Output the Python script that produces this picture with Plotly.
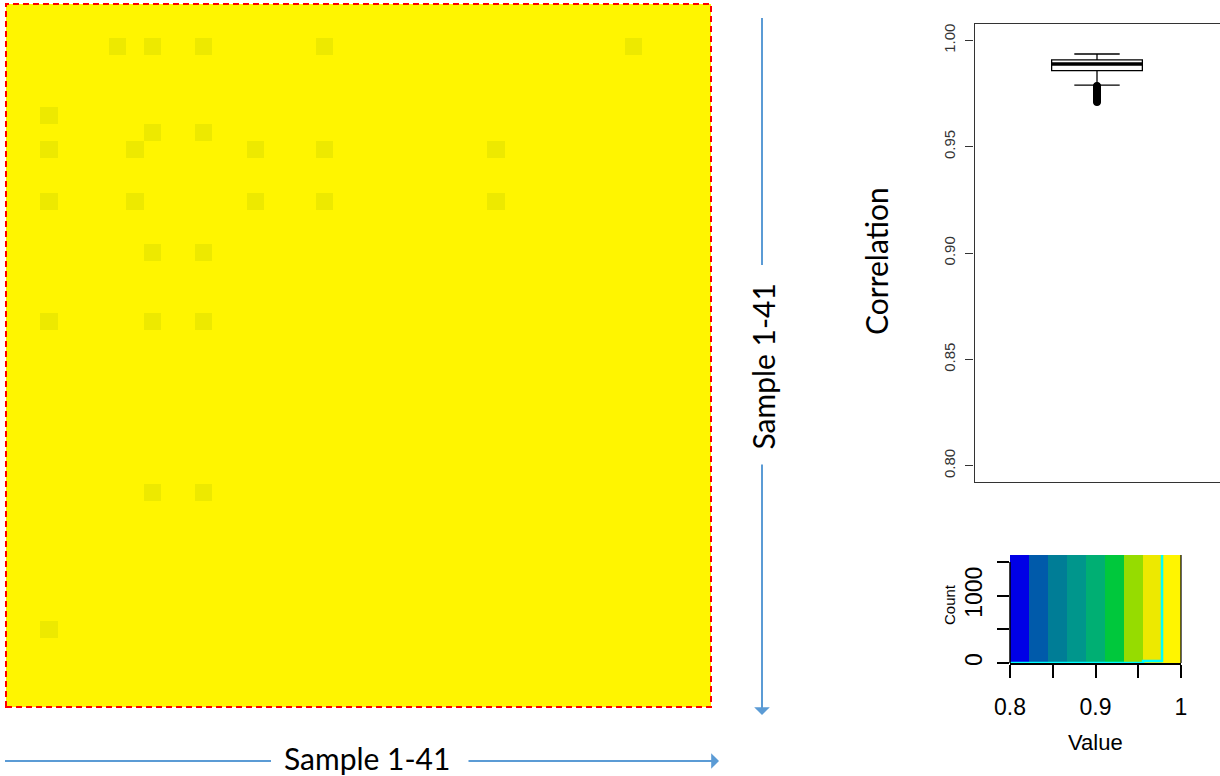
import plotly.graph_objects as go

W, H = 1220, 776

# ---------------- data ----------------
samples = list(range(1, 42))
high_corr = 0.99          # colour of almost every cell (top bin)
low_corr = 0.97           # slightly darker cells (second-highest bin)
low_rows = [2, 2, 2, 2, 2, 6, 7, 7, 8, 8, 8, 8, 8, 11, 11, 11, 11, 11, 14, 14, 18, 18, 18, 28, 28, 36]
low_cols = [6, 8, 11, 18, 36, 2, 8, 11, 2, 7, 14, 18, 28, 2, 7, 14, 18, 28, 8, 11, 2, 8, 11, 8, 11, 2]

breaks = [0.8, 0.8222, 0.8444, 0.8667, 0.8889, 0.9111, 0.9333, 0.9556, 0.9778, 1.0]
key_colors = ["#0000E6", "#005AAA", "#007D96", "#00968C", "#00AF73",
              "#00C83C", "#96DC00", "#EDE900", "#FFF500"]
hist_counts = [0, 0, 0, 0, 0, 0, 0, 30, 1641]
count_ticks = [0, 500, 1000, 1500]
count_labels = ["0", "", "1000", ""]
value_ticks = [0.8, 0.85, 0.9, 0.95, 1.0]
value_labels = ["0.8", "", "0.9", "", "1"]

box_q1, box_median, box_q3 = 0.9858, 0.9889, 0.9908
box_lower, box_upper = 0.9790, 0.9936
box_outliers = [0.9787, 0.9784, 0.9781, 0.9778, 0.9775, 0.9772, 0.9769, 0.9766, 0.9763,
                0.9760, 0.9757, 0.9754, 0.9751, 0.9748, 0.9745, 0.9742, 0.9739, 0.9736,
                0.9733, 0.9730, 0.9727, 0.9724, 0.9721, 0.9718, 0.9715, 0.9712, 0.9709]
corr_ticks = [0.80, 0.85, 0.90, 0.95, 1.00]

# ---------------- helpers ----------------
def px(x):
    return x / W

def py(y):
    return 1 - y / H

z = [[high_corr for _ in samples] for _ in samples]
for r, c in zip(low_rows, low_cols):
    z[r][c] = low_corr

n = len(key_colors)
colorscale = []
for i, c in enumerate(key_colors):
    colorscale.append([i / n, c])
    colorscale.append([(i + 1) / n, c])

mids = [(a + b) / 2 for a, b in zip(breaks[:-1], breaks[1:])]
key_top = 1604
box_w = 0.4

fig = go.Figure()

# main heatmap
fig.add_trace(go.Heatmap(
    x=samples, y=samples, z=z, colorscale=colorscale, zmin=breaks[0], zmax=breaks[-1],
    showscale=False, xaxis="x", yaxis="y", hoverinfo="skip"))

# boxplot
fig.add_trace(go.Box(
    x=[0], q1=[box_q1], median=[box_median], q3=[box_q3],
    lowerfence=[box_lower], upperfence=[box_upper],
    width=box_w, whiskerwidth=0.5, fillcolor="white",
    line=dict(color="black", width=1.3), boxpoints=False,
    xaxis="x2", yaxis="y2"))
fig.add_trace(go.Scatter(
    x=[-box_w / 2, box_w / 2], y=[box_median, box_median], mode="lines",
    line=dict(color="black", width=3.5), xaxis="x2", yaxis="y2", hoverinfo="skip"))
fig.add_trace(go.Scatter(
    x=[0] * len(box_outliers), y=box_outliers, mode="markers",
    marker=dict(symbol="circle-open", size=6, color="black", line=dict(width=1.5)),
    xaxis="x2", yaxis="y2"))

# colour key
fig.add_trace(go.Heatmap(
    x=breaks, y=[0, key_top], z=[mids], colorscale=colorscale,
    zmin=breaks[0], zmax=breaks[-1], showscale=False,
    xaxis="x3", yaxis="y3", hoverinfo="skip"))
fig.add_trace(go.Scatter(
    x=breaks, y=hist_counts + [hist_counts[-1]], mode="lines", line_shape="hv",
    line=dict(color="#00FFFF", width=2.5), xaxis="x3", yaxis="y3", hoverinfo="skip"))

tickfont = dict(family="Liberation Sans, Arial, sans-serif", color="black")

fig.update_layout(
    template="none",
    width=W, height=H, margin=dict(l=0, r=0, t=0, b=0, pad=0, autoexpand=False),
    paper_bgcolor="white", plot_bgcolor="white", showlegend=False,
    xaxis=dict(domain=[px(6), px(711)], range=[0.5, 41.5], visible=False, anchor="y",
               automargin=False),
    yaxis=dict(domain=[py(707), py(4)], range=[41.5, 0.5], visible=False, anchor="x",
               automargin=False),
    xaxis2=dict(domain=[px(974.5), px(1219.5)], range=[-0.54, 0.54], anchor="y2",
                showline=True, mirror=True, linecolor="#333", linewidth=1.3,
                showticklabels=False, ticks="", showgrid=False, zeroline=False,
                automargin=False),
    yaxis2=dict(domain=[py(482.3), py(24)], range=[0.7922, 1.0077], anchor="x2",
                tickvals=corr_ticks, tickformat=".2f", tickangle=-90,
                ticks="outside", ticklen=8, tickcolor="#333", tickwidth=1.2,
                showline=True, mirror=True, linecolor="#333", linewidth=1.3,
                showgrid=False, zeroline=False, automargin=False, ticklabelstandoff=4,
                tickfont=dict(size=15, family="Liberation Sans, Arial, sans-serif", color="#333")),
    xaxis3=dict(domain=[px(1010), px(1181)], range=[breaks[0], breaks[-1]], anchor="y3",
                tickvals=value_ticks, ticktext=value_labels, ticks="outside", ticklen=13,
                tickwidth=1.5, tickcolor="black", showline=True, linecolor="black",
                linewidth=1.5, showgrid=False, zeroline=False, ticklabelstandoff=10,
                automargin=False, tickfont=dict(size=23, **tickfont)),
    yaxis3=dict(domain=[py(663), py(555)], range=[0, key_top], anchor="x3",
                tickvals=count_ticks, ticktext=count_labels, tickangle=-90,
                ticks="outside", ticklen=12, tickwidth=1.5, tickcolor="black",
                showline=False, showgrid=False, zeroline=False, ticklabelstandoff=6,
                automargin=False, tickfont=dict(size=23, **tickfont)),
)

shapes = [
    # red dashed border of the heatmap
    dict(type="rect", xref="x domain", yref="y domain", x0=0, x1=1, y0=0, y1=1,
         line=dict(color="#FF0000", width=2, dash="6px,4px")),
    # key y-axis line (first to last tick)
    dict(type="line", xref="x3 domain", yref="y3", x0=0, x1=0,
         y0=count_ticks[0], y1=count_ticks[-1], line=dict(color="black", width=1.5)),
    dict(type="line", xref="x3 domain", yref="y3 domain", x0=1, x1=1, y0=0, y1=1,
         line=dict(color="black", width=1.2)),
    # arrow segments without heads
    dict(type="line", xref="paper", yref="paper", x0=px(5), x1=px(271), y0=py(761), y1=py(761),
         line=dict(color="#5B9BD5", width=2)),
    dict(type="line", xref="paper", yref="paper", x0=px(762), x1=px(762), y0=py(18), y1=py(265),
         line=dict(color="#5B9BD5", width=2)),
]
fig.update_layout(shapes=shapes)

big = dict(family="Lato, Open Sans, sans-serif", size=30, color="black")
small = dict(family="Liberation Sans, Arial, sans-serif", color="black")
ctr = dict(xref="paper", yref="paper", xanchor="center", yanchor="middle", showarrow=False)
annotations = [
    dict(x=px(367.5), y=py(758), text="Sample 1-41", font=big, **ctr),
    dict(x=px(762), y=py(366.5), text="Sample 1-41", textangle=-90, font=big, **ctr),
    dict(x=px(876), y=py(261), text="Correlation", textangle=-90, font=big, **ctr),
    dict(x=px(1095), y=py(742), text="Value", font=dict(size=22, **small), **ctr),
    dict(x=px(949), y=py(605), text="Count", textangle=-90, font=dict(size=15, **small), **ctr),
    # arrows with heads
    dict(x=px(719), y=py(761), xref="paper", yref="paper", text="", showarrow=True,
         ax=-(719 - 467), ay=0, axref="pixel", ayref="pixel", arrowhead=1,
         arrowsize=1.3, arrowwidth=2, arrowcolor="#5B9BD5", standoff=0, startstandoff=0),
    dict(x=px(762), y=py(715), xref="paper", yref="paper", text="", showarrow=True,
         ax=0, ay=-(715 - 463), axref="pixel", ayref="pixel", arrowhead=1,
         arrowsize=1.3, arrowwidth=2, arrowcolor="#5B9BD5", standoff=0, startstandoff=0),
]
fig.update_layout(annotations=annotations)

fig.write_html("out.html", config={"displayModeBar": False},
               post_script="document.body.style.margin='0';")
